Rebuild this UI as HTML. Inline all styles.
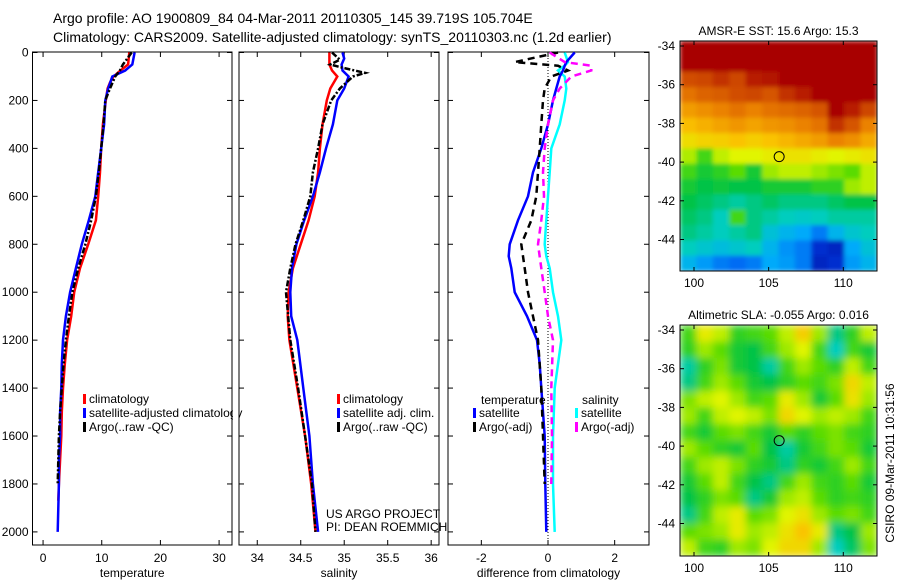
<!DOCTYPE html>
<html><head><meta charset="utf-8"><style>
body{margin:0;background:#fff;}
svg{display:block;font-family:"Liberation Sans",sans-serif;}
</style></head><body>
<svg id="fig" width="900" height="580" viewBox="0 0 900 580">
<defs>
<filter id="blur" x="0" y="0" width="1" height="1"><feGaussianBlur stdDeviation="4" edgeMode="duplicate"/></filter>
<filter id="blur2" x="0" y="0" width="1" height="1"><feGaussianBlur stdDeviation="2" edgeMode="duplicate"/></filter>
<clipPath id="clip1"><rect x="680" y="41" width="197" height="230"/></clipPath>
<clipPath id="clip2"><rect x="680" y="325" width="197" height="231"/></clipPath>
</defs>
<text x="53" y="23" font-size="14">Argo profile: AO 1900809_84 04-Mar-2011 20110305_145 39.719S 105.704E</text>
<text x="53" y="42" font-size="14">Climatology: CARS2009. Satellite-adjusted climatology: synTS_20110303.nc (1.2d earlier)</text>
<g id="plots"></g>
</svg>
<script>
// ---------- data ----------
const depthT = [0,50,75,100,125,150,200,300,400,500,600,700,800,900,1000,1100,1200,1300,1400,1500,1600,1700,1800,1870];
const tempClim = [14.7,14.5,13.2,12.0,11.4,11.0,10.7,10.2,9.9,9.7,9.4,9.0,7.7,6.3,5.3,4.8,4.1,3.7,3.4,3.2,3.1,2.9,2.7,2.6];
const depthTS = [0,50,75,100,150,200,300,400,500,600,700,800,900,1000,1100,1200,1300,1400,1500,1600,1700,1800,1900,2000];
const tempSat = [15.6,15.2,14.0,11.8,11.1,10.6,10.4,9.9,9.4,8.9,7.8,6.6,5.6,4.6,3.9,3.4,3.2,3.1,2.9,2.9,2.7,2.7,2.6,2.5];
const depthTA = [0,50,75,100,150,200,300,400,500,600,700,800,900,1000,1100,1200,1300,1400,1500,1600,1700,1800];
const tempArgo = [15.1,13.6,13.1,12.3,11.4,10.6,10.3,9.9,9.5,9.0,8.2,7.2,6.0,5.0,4.4,3.9,3.5,3.2,2.9,2.7,2.6,2.5];

const depthS = [0,25,50,75,100,150,200,300,400,500,600,700,800,900,1000,1100,1200,1400,1600,1800,2000];
const salClim = [34.83,34.83,34.83,34.86,34.92,34.84,34.80,34.75,34.72,34.70,34.66,34.59,34.50,34.41,34.36,34.35,34.37,34.46,34.55,34.62,34.67];
const salSat = [34.98,35.00,34.97,34.98,35.05,35.00,34.92,34.87,34.79,34.72,34.64,34.54,34.45,34.40,34.38,34.39,34.46,34.53,34.60,34.64,34.70];
const depthSA = [0,30,50,65,85,100,150,200,300,400,500,600,700,800,900,1000,1200,1400,1600,1800,2000];
const salArgo = [34.86,34.95,34.84,35.00,35.24,35.10,34.95,34.85,34.75,34.70,34.64,34.61,34.53,34.44,34.38,34.33,34.38,34.47,34.55,34.63,34.67];

const depthD = [0,40,55,75,100,150,200,300,400,500,600,700,800,850,900,1000,1100,1200,1300,1400,1600,1800,2000];
const diffTSat = [0.8,0.55,0.5,0.45,0.35,0.25,0.15,0.0,-0.2,-0.45,-0.6,-0.9,-1.15,-1.18,-1.1,-1.0,-0.63,-0.33,-0.25,-0.2,-0.1,-0.08,-0.05];
const diffSSat = [0.5,0.6,0.5,0.3,0.5,0.55,0.5,0.35,0.1,0.05,0.0,-0.05,-0.1,-0.05,0.05,0.15,0.3,0.4,0.3,0.2,0.15,0.15,0.2];
const depthDA = [0,40,55,75,100,150,200,300,400,500,600,700,800,900,1000,1100,1200,1400,1600,1800];
const diffTArgo = [0.3,-1.0,0.3,0.6,0.1,-0.1,-0.15,-0.2,-0.25,-0.3,-0.35,-0.5,-0.8,-0.7,-0.6,-0.45,-0.3,-0.2,-0.15,-0.1];
const diffSArgo = [0.05,0.5,1.3,1.3,0.7,0.35,0.15,0.0,-0.1,-0.15,-0.12,-0.2,-0.3,-0.2,-0.1,0.0,0.15,0.1,0.12,0.1];

const depthTicks = [0,200,400,600,800,1000,1200,1400,1600,1800,2000];
const tempTicks = [0,10,20,30];
const salTicks = [34,34.5,35,35.5,36];
const diffTicks = [-2,0,2];
const lonTicks = [100,105,110];
const latTicks = [-34,-36,-38,-40,-42,-44];

// SST map values (0..1), rows top(north) to bottom, 12 cols
const sstGrid = [
[0.95,0.95,0.95,0.95,0.95,0.95,0.95,0.95,0.95,0.95,0.95,0.95],
[0.95,0.95,0.95,0.95,0.95,0.95,0.95,0.95,0.95,0.95,0.95,0.95],
[0.87,0.88,0.90,0.88,0.92,0.93,0.95,0.95,0.95,0.95,0.95,0.95],
[0.82,0.84,0.85,0.87,0.88,0.86,0.90,0.92,0.95,0.95,0.95,0.95],
[0.76,0.78,0.80,0.82,0.80,0.82,0.83,0.84,0.86,0.95,0.92,0.88],
[0.71,0.73,0.75,0.77,0.75,0.77,0.78,0.80,0.82,0.90,0.86,0.80],
[0.65,0.67,0.68,0.70,0.68,0.70,0.72,0.74,0.76,0.80,0.78,0.74],
[0.57,0.50,0.58,0.60,0.60,0.62,0.64,0.64,0.62,0.60,0.62,0.64],
[0.50,0.46,0.48,0.52,0.46,0.56,0.58,0.58,0.56,0.54,0.52,0.58],
[0.46,0.44,0.45,0.44,0.44,0.46,0.46,0.46,0.48,0.48,0.56,0.58],
[0.44,0.42,0.40,0.38,0.40,0.42,0.40,0.40,0.40,0.42,0.44,0.44],
[0.42,0.40,0.36,0.50,0.40,0.38,0.36,0.35,0.36,0.38,0.38,0.38],
[0.40,0.38,0.36,0.38,0.40,0.33,0.30,0.28,0.22,0.30,0.34,0.36],
[0.36,0.34,0.32,0.34,0.36,0.30,0.25,0.22,0.10,0.08,0.28,0.33],
[0.30,0.26,0.22,0.20,0.22,0.28,0.26,0.22,0.08,0.10,0.26,0.30]
];
// SLA map values
const slaGrid = [
[0.50,0.62,0.58,0.48,0.50,0.52,0.58,0.68,0.56,0.40,0.48,0.58],
[0.48,0.56,0.52,0.46,0.44,0.50,0.56,0.60,0.50,0.36,0.50,0.46],
[0.38,0.48,0.54,0.46,0.44,0.38,0.50,0.56,0.52,0.48,0.58,0.50],
[0.40,0.50,0.56,0.52,0.46,0.44,0.48,0.52,0.50,0.54,0.66,0.58],
[0.54,0.58,0.60,0.56,0.50,0.52,0.62,0.56,0.46,0.52,0.64,0.56],
[0.56,0.50,0.58,0.60,0.58,0.54,0.66,0.60,0.56,0.58,0.56,0.50],
[0.50,0.46,0.52,0.54,0.50,0.46,0.52,0.48,0.52,0.54,0.50,0.48],
[0.56,0.52,0.48,0.46,0.52,0.44,0.38,0.46,0.50,0.54,0.52,0.46],
[0.50,0.56,0.58,0.54,0.48,0.46,0.40,0.48,0.46,0.50,0.56,0.50],
[0.46,0.52,0.58,0.50,0.44,0.40,0.50,0.56,0.50,0.48,0.52,0.46],
[0.44,0.48,0.54,0.52,0.40,0.46,0.56,0.58,0.52,0.48,0.50,0.48],
[0.40,0.50,0.58,0.62,0.52,0.54,0.60,0.64,0.56,0.52,0.54,0.50],
[0.52,0.54,0.56,0.62,0.56,0.58,0.64,0.70,0.62,0.40,0.44,0.56],
[0.58,0.50,0.48,0.56,0.54,0.60,0.66,0.66,0.56,0.36,0.42,0.54]
];

// ---------- helpers ----------
const NS = 'http://www.w3.org/2000/svg';
const root = document.getElementById('plots');
function mk(tag, attrs, parent){ const e=document.createElementNS(NS,tag); for(const k in attrs) e.setAttribute(k,attrs[k]); (parent||root).appendChild(e); return e; }
const yTop=52.5, yPerM=0.2397;
function yD(d){ return yTop + d*yPerM; }

const cmapStops=[[0,0,0,140],[0.15,0,70,240],[0.28,0,170,250],[0.36,0,205,190],[0.44,0,195,70],[0.52,90,220,0],[0.6,225,245,0],[0.7,250,195,0],[0.8,235,130,0],[0.88,205,70,0],[0.95,168,0,0],[1,150,0,0]];
function cmap(v){
  v=Math.max(0,Math.min(1,v));
  for(let i=1;i<cmapStops.length;i++){
    const a=cmapStops[i-1],b=cmapStops[i];
    if(v<=b[0]){ const f=(v-a[0])/(b[0]-a[0]);
      return 'rgb('+[1,2,3].map(k=>Math.round(a[k]+(b[k]-a[k])*f)).join(',')+')'; }
  }
  return 'rgb(150,0,0)';
}

function panel(name,x0,x1,xmin,xmax,xTicks,xlabel,showY){
  const sx=v=>x0+(v-xmin)/(xmax-xmin)*(x1-x0);
  const g=mk('g',{});
  
  
  const box=mk('rect',{x:x0,y:52,width:x1-x0,height:493,fill:'none',stroke:'#000','stroke-width':1},g);
  
  
  xTicks.forEach(t=>{
    const x=sx(t);
    mk('line',{x1:x,x2:x,y1:545,y2:540,stroke:'#000'},g);
    mk('line',{x1:x,x2:x,y1:52,y2:57,stroke:'#000'},g);
    const tl=mk('text',{x:x,y:562,'font-size':12,'text-anchor':'middle'},g);
    tl.textContent=t;
    
    
  });
  depthTicks.forEach(d=>{
    const y=yD(d);
    mk('line',{x1:x0,x2:x0+5,y1:y,y2:y,stroke:'#000'},g);
    mk('line',{x1:x1,x2:x1-5,y1:y,y2:y,stroke:'#000'},g);
    if(showY){
      const tl=mk('text',{x:x0-4,y:y+4,'font-size':12,'text-anchor':'end'},g);
      tl.textContent=d;
      
      
    }
  });
  const xl=mk('text',{x:(x0+x1)/2,y:577,'font-size':12,'text-anchor':'middle'},g);
  xl.textContent=xlabel;
  
  
  return {sx,g};
}
function series(p,depths,vals,color,dash,name){
  const pts=depths.map((d,i)=>p.sx(vals[i]).toFixed(1)+','+yD(d).toFixed(1)).join(' ');
  const a={points:pts,fill:'none',stroke:color,'stroke-width':2.5};
  if(dash) a['stroke-dasharray']=dash;
  const e=mk('polyline',a,p.g);
  
  
}
function legend(g,x,y,color,label,name){
  mk('rect',{x:x,y:y-9,width:3,height:10,fill:color},g);
  const t=mk('text',{x:x+6,y:y,'font-size':12},g);
  t.textContent=label;
  
  
}

// temperature panel
const pT=panel('temperature-panel',32.5,232,-1.8,32.2,tempTicks,'temperature',true);
series(pT,depthT,tempClim,'#f00',null,'temp-climatology-line');
series(pT,depthTS,tempSat,'#00f',null,'temp-satellite-line');
series(pT,depthTA,tempArgo,'#000','6,2,2,2','temp-argo-line');
legend(pT.g,83,403,'#f00','climatology','legend-climatology');
legend(pT.g,83,417,'#00f','satellite-adjusted climatology','legend-satellite-adjusted');
legend(pT.g,83,431,'#000','Argo(..raw -QC)','legend-argo');
mk('rect',{x:233,y:395,width:6,height:40,fill:'#fff'});

// salinity panel
const pS=panel('salinity-panel',239,439,33.79,36.09,salTicks,'salinity',false);
series(pS,depthS,salClim,'#f00',null,'sal-climatology-line');
series(pS,depthS,salSat,'#00f',null,'sal-satellite-line');
series(pS,depthSA,salArgo,'#000','6,2,2,2','sal-argo-line');
legend(pS.g,337,403,'#f00','climatology','legend-sal-climatology');
legend(pS.g,337,417,'#00f','satellite adj. clim.','legend-sal-satellite');
legend(pS.g,337,431,'#000','Argo(..raw -QC)','legend-sal-argo');
const c1=mk('text',{x:326,y:518,'font-size':12}); c1.textContent='US ARGO PROJECT';
 
const c2=mk('text',{x:326,y:531,'font-size':12}); c2.textContent='PI: DEAN ROEMMICH';
 

// difference panel
const pD=panel('difference-panel',448,649,-3.0,3.03,diffTicks,'difference from climatology',false);
mk('line',{x1:pD.sx(0),x2:pD.sx(0),y1:52,y2:545,stroke:'#000','stroke-dasharray':'1,2'},pD.g);
series(pD,depthD,diffSSat,'#0ff',null,'diff-sal-satellite-line');
series(pD,depthD,diffTSat,'#00f',null,'diff-temp-satellite-line');
series(pD,depthDA,diffTArgo,'#000','7,5','diff-temp-argo-line');
series(pD,depthDA,diffSArgo,'#f0f','7,5','diff-sal-argo-line');
const lt=mk('text',{x:481,y:404,'font-size':12},pD.g); lt.textContent='temperature';
 
const ls=mk('text',{x:582,y:404,'font-size':12},pD.g); ls.textContent='salinity';
 
legend(pD.g,473,417,'#00f','satellite','legend-diff-temp-satellite');
legend(pD.g,473,431,'#000','Argo(-adj)','legend-diff-temp-argo');
legend(pD.g,575,417,'#0ff','satellite','legend-diff-sal-satellite');
legend(pD.g,575,431,'#f0f','Argo(-adj)','legend-diff-sal-argo');

// maps
function map(name,grid,y0,y1,latTop,title,clip,filt){
  const x0=680,x1=877;
  const g=mk('g',{});
  
  
  const cg=mk('g',{'clip-path':'url(#'+clip+')'},g);
  const ig=mk('g',{filter:'url(#'+filt+')'},cg);
  const rows=grid.length, cols=grid[0].length;
  const cw=(x1-x0)/cols, ch=(y1-y0)/rows;
  grid.forEach((row,r)=>row.forEach((v,c)=>{
    const cell=mk('rect',{x:x0+c*cw,y:y0+r*ch,width:cw+0.6,height:ch+0.6,fill:cmap(v)},ig);
    
    
  }));
  const lx=lon=>694+(lon-100)*14.93;
  const ly=lat=>latTop+(-34-lat)*19.35;
  mk('rect',{x:x0,y:y0,width:x1-x0,height:y1-y0,fill:'none',stroke:'#000'},g);
  lonTicks.forEach(l=>{
    const x=lx(l);
    mk('line',{x1:x,x2:x,y1:y1,y2:y1-4,stroke:'#000'},g);
    mk('line',{x1:x,x2:x,y1:y0,y2:y0+4,stroke:'#000'},g);
    const t=mk('text',{x:x,y:y1+16,'font-size':12,'text-anchor':'middle'},g); t.textContent=l;
     
  });
  latTicks.forEach(l=>{
    const y=ly(l);
    mk('line',{x1:x0,x2:x0+4,y1:y,y2:y,stroke:'#000'},g);
    mk('line',{x1:x1,x2:x1-4,y1:y,y2:y,stroke:'#000'},g);
    const t=mk('text',{x:x0-5,y:y+4,'font-size':12,'text-anchor':'end'},g); t.textContent=l;
     
  });
  const tt=mk('text',{x:(x0+x1)/2,y:y0-6,'font-size':12,'text-anchor':'middle'},g); tt.textContent=title;
   
  const dot=mk('circle',{cx:lx(105.704),cy:ly(-39.719),r:5,fill:'none',stroke:'#000'},g);
   
}
map('sst-map',sstGrid,41,271,46,'AMSR-E SST: 15.6 Argo: 15.3','clip1','blur2');
map('sla-map',slaGrid,325,556,330,'Altimetric SLA: -0.055 Argo: 0.016','clip2','blur');
const st=mk('text',{x:0,y:0,'font-size':12,'text-anchor':'middle',transform:'translate(894,463) rotate(-90)'});
st.textContent='CSIRO 09-Mar-2011 10:31:56';
 
</script>
</body></html>
